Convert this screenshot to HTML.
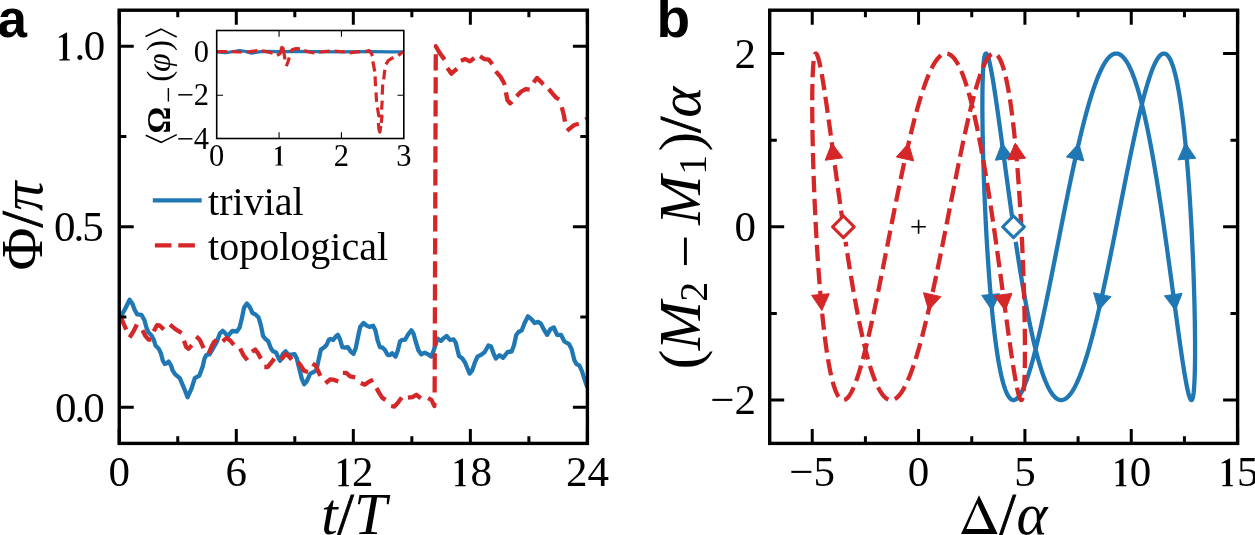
<!DOCTYPE html>
<html><head><meta charset="utf-8"><style>html,body{margin:0;padding:0;background:#fff;overflow:hidden}svg{display:block;will-change:transform}</style></head>
<body><svg width="1255" height="535" viewBox="0 0 1255 535">

<clipPath id="ca"><rect x="119.25" y="10.2" width="468.15" height="433.2"/></clipPath><g clip-path="url(#ca)">
<path d="M119.30 318.50 L121.50 315.40 L125.10 309.00 L129.60 299.80 L132.50 304.00 L134.50 309.50 L137.20 314.40 L141.40 314.80 L144.40 320.00 L146.40 327.50 L148.40 332.50 L151.20 335.00 L153.70 339.50 L155.50 345.50 L158.70 348.70 L161.00 353.70 L162.80 360.50 L164.70 364.00 L166.50 363.50 L168.60 361.50 L171.00 365.50 L172.60 370.30 L175.20 374.30 L179.80 378.20 L183.70 387.30 L187.60 397.20 L191.50 388.70 L194.80 378.20 L199.40 375.60 L202.70 366.40 L204.50 358.50 L206.40 355.00 L209.50 354.40 L212.80 348.80 L216.50 342.50 L219.90 333.60 L222.70 330.80 L225.50 333.60 L227.80 336.50 L230.00 333.50 L232.30 331.00 L236.80 331.50 L239.60 327.60 L241.80 318.60 L244.10 307.40 L246.90 303.50 L249.70 306.90 L252.50 313.00 L255.80 314.70 L258.60 317.50 L260.90 325.40 L263.10 336.00 L265.40 338.90 L268.20 341.20 L271.00 348.50 L273.20 351.30 L276.00 352.40 L277.70 356.30 L280.00 360.80 L282.80 354.10 L285.60 351.30 L288.40 354.60 L291.70 354.60 L294.50 354.10 L296.80 358.60 L299.00 367.50 L301.80 378.70 L304.10 384.30 L306.90 381.00 L310.20 373.70 L313.60 372.00 L316.40 370.30 L318.60 359.70 L320.90 349.60 L324.30 347.30 L326.50 345.00 L328.70 340.00 L330.50 339.00 L333.20 340.00 L335.80 336.50 L337.80 334.80 L340.00 339.30 L342.30 347.10 L345.10 347.70 L347.90 347.10 L350.70 351.60 L353.50 353.80 L355.70 348.20 L358.00 337.00 L360.20 326.90 L363.60 323.00 L367.00 325.80 L369.80 326.90 L373.10 325.80 L375.40 330.30 L377.60 340.40 L379.90 347.10 L382.70 347.70 L384.90 349.90 L387.70 355.00 L390.00 355.00 L392.20 353.30 L395.60 356.60 L397.80 350.50 L400.00 341.50 L402.30 339.80 L405.10 339.80 L407.90 334.80 L411.30 330.30 L413.50 333.60 L415.70 341.50 L418.50 350.50 L421.40 354.40 L424.70 352.70 L428.10 354.40 L431.40 356.60 L433.70 350.50 L436.50 341.50 L437.60 338.70 L441.00 340.90 L443.80 338.10 L446.60 335.90 L450.00 340.00 L453.60 339.40 L455.70 342.60 L457.30 349.30 L459.00 356.00 L462.40 358.50 L465.00 362.50 L467.70 369.00 L469.60 373.60 L472.20 370.30 L474.90 362.50 L477.50 356.60 L481.40 354.60 L484.70 352.00 L488.40 345.50 L491.10 346.60 L493.80 354.20 L495.90 358.50 L499.60 355.20 L503.00 357.80 L507.70 352.00 L511.60 351.50 L514.00 345.20 L516.20 335.00 L518.50 332.00 L521.80 330.30 L524.60 323.00 L528.00 316.30 L531.40 319.10 L534.70 323.00 L538.10 321.90 L540.90 323.60 L543.70 329.20 L547.10 334.80 L550.40 329.20 L553.80 327.50 L557.10 334.80 L561.10 335.00 L564.40 341.50 L569.10 344.20 L571.70 349.40 L574.30 359.90 L576.30 363.80 L579.50 365.70 L582.10 371.60 L584.80 380.10 L587.40 387.50" fill="none" stroke="#1f77b4" stroke-width="4.3" stroke-linejoin="round"/>
<path d="M119.30 315.50 L121.70 319.50 L124.00 324.60 L126.20 329.60M129.60 337.50 L132.90 332.40 L136.90 324.60M142.50 330.20 L145.30 335.80 L148.60 339.70 L151.40 339.70M153.70 331.30 L157.10 325.10 L159.90 325.70 L163.80 329.60M170.00 324.60 L173.90 327.90 L177.80 330.70 L181.70 333.00M184.00 340.80 L186.20 347.00 L188.50 348.70 L191.80 345.30M196.30 336.40 L199.70 339.70 L203.60 348.10M208.60 353.70 L211.40 347.00 L213.70 342.50 L216.50 339.70M222.70 341.40 L226.60 338.00 L230.50 340.80 L233.90 344.80M240.10 348.50 L243.50 355.20 L247.40 360.20M251.90 351.80 L255.30 349.60 L258.10 353.50 L260.90 358.60M264.30 367.00 L267.60 367.00 L271.00 363.00 L274.30 358.60M281.10 359.70 L285.60 354.10 L288.90 356.30 L291.70 359.70M297.90 361.90 L301.30 366.40 L304.10 370.90 L308.00 372.00M312.50 363.60 L315.80 365.80 L318.10 370.90 L320.30 375.90M325.40 383.20 L330.40 379.30 L334.30 379.90 L338.30 381.50M342.90 372.90 L346.20 372.90 L350.10 376.30 L355.20 377.40M360.80 383.00 L364.70 384.70 L368.60 381.90 L373.10 379.70M376.50 388.10 L379.30 393.10 L382.10 397.60 L385.50 399.90M391.10 406.00 L394.40 406.60 L398.40 402.10 L401.70 397.60M407.90 397.60 L412.40 397.10 L416.30 394.80 L420.80 398.20M428.10 398.20 L431.40 399.90 L434.40 406.00 L434.45 403.00M434.64 392.60 L434.70 376.30M434.72 369.60 L434.78 353.30M434.80 346.60 L434.85 330.30M434.87 323.60 L434.93 307.30M434.95 300.60 L435.01 284.30M435.03 277.60 L435.08 261.30M435.10 254.60 L435.16 238.30M435.18 231.60 L435.24 215.30M435.26 208.60 L435.31 192.30M435.33 185.60 L435.39 169.30M435.41 162.60 L435.47 146.30M435.49 139.60 L435.54 123.30M435.56 116.60 L435.62 100.30M435.64 93.60 L435.70 77.30M435.72 70.60 L435.77 54.30M435.80 47.60 L435.80 46.20 L439.60 52.90 L444.60 59.60M447.40 68.10 L451.40 73.70 L457.00 68.60M460.90 60.80 L465.40 59.10 L469.90 61.40 L474.30 58.00M480.00 56.30 L484.40 59.10 L488.90 59.70 L492.30 64.20M495.70 71.40 L500.10 76.20 L503.50 82.00 L504.80 85.00M505.90 92.30 L507.40 100.10 L510.10 103.40 L512.00 101.50M516.60 96.20 L521.20 91.60 L525.80 89.00 L529.70 89.60M533.60 82.40 L536.90 77.90 L540.20 81.10 L543.40 84.40M548.70 89.00 L552.60 93.60 L555.90 97.50 L559.10 99.50M561.80 107.30 L563.70 114.50 L565.00 121.70M567.00 130.90 L570.90 127.60 L574.20 125.00 L578.80 123.70M585.30 119.70 L587.40 118.50" fill="none" stroke="#d62728" stroke-width="4.3" stroke-linejoin="round" stroke-linecap="butt"/>
</g>
<rect x="119.25" y="10.2" width="468.15" height="433.2" fill="none" stroke="#000" stroke-width="3.4" stroke-linejoin="miter"/>
<path d="M119.25 443.4v-14.5M119.25 10.2v14.5M236.29 443.4v-14.5M236.29 10.2v14.5M353.32 443.4v-14.5M353.32 10.2v14.5M470.36 443.4v-14.5M470.36 10.2v14.5M587.40 443.4v-14.5M587.40 10.2v14.5M177.77 443.4v-7.1M177.77 10.2v7.1M294.81 443.4v-7.1M294.81 10.2v7.1M411.84 443.4v-7.1M411.84 10.2v7.1M528.88 443.4v-7.1M528.88 10.2v7.1M119.25 407.30h14.5M587.4 407.30h-14.5M119.25 226.80h14.5M587.4 226.80h-14.5M119.25 46.30h14.5M587.4 46.30h-14.5M119.25 317.05h7.1M587.4 317.05h-7.1M119.25 136.55h7.1M587.4 136.55h-7.1" stroke="#000" stroke-width="3.0" fill="none"/>
<rect x="769.7" y="10.2" width="467.89999999999986" height="433.2" fill="none" stroke="#000" stroke-width="3.4" stroke-linejoin="miter"/>
<path d="M812.24 443.4v-14.5M812.24 10.2v14.5M918.58 443.4v-14.5M918.58 10.2v14.5M1024.92 443.4v-14.5M1024.92 10.2v14.5M1131.26 443.4v-14.5M1131.26 10.2v14.5M1237.60 443.4v-14.5M1237.60 10.2v14.5M865.41 443.4v-7.1M865.41 10.2v7.1M971.75 443.4v-7.1M971.75 10.2v7.1M1078.09 443.4v-7.1M1078.09 10.2v7.1M1184.43 443.4v-7.1M1184.43 10.2v7.1M769.7 400.08h14.5M1237.6 400.08h-14.5M769.7 226.80h14.5M1237.6 226.80h-14.5M769.7 53.52h14.5M1237.6 53.52h-14.5M769.7 313.44h7.1M1237.6 313.44h-7.1M769.7 140.16h7.1M1237.6 140.16h-7.1" stroke="#000" stroke-width="3.0" fill="none"/>
<path d="M67.10 32.60L67.10 58.20C67.10 59.20 68.00 59.30 69.90 59.40L69.90 60.40L59.30 60.40L59.30 59.40C61.70 59.30 62.90 59.20 62.90 58.20L62.90 38.90C62.90 37.20 62.40 37.00 61.50 37.20L58.80 37.80L58.60 36.90L66.40 32.60Z" fill="#000"/>
<text x="74.50" y="60.40" font-size="43" font-family="Liberation Serif, serif">.</text>
<text x="83.70" y="60.40" font-size="43" font-family="Liberation Serif, serif">0</text>
<text x="102.75" y="421.54" font-size="43" text-anchor="end" font-family="Liberation Serif, serif" letter-spacing="-2">0.0</text>
<text x="101.85" y="241.04" font-size="43" text-anchor="end" font-family="Liberation Serif, serif" letter-spacing="-2">0.5</text>
<text x="119.25" y="486.40" font-size="43" text-anchor="middle" font-family="Liberation Serif, serif" >0</text>
<text x="236.29" y="486.40" font-size="43" text-anchor="middle" font-family="Liberation Serif, serif" >6</text>
<text x="587.40" y="486.40" font-size="43" text-anchor="middle" font-family="Liberation Serif, serif" >24</text>
<path d="M346.20 458.40L346.20 484.00C346.20 485.00 347.10 485.10 349.00 485.20L349.00 486.20L338.40 486.20L338.40 485.20C340.80 485.10 342.00 485.00 342.00 484.00L342.00 464.70C342.00 463.00 341.50 462.80 340.60 463.00L337.90 463.60L337.70 462.70L345.50 458.40Z" fill="#000"/>
<text x="352.00" y="486.20" font-size="43" font-family="Liberation Serif, serif">2</text>
<path d="M462.95 458.40L462.95 484.00C462.95 485.00 463.85 485.10 465.75 485.20L465.75 486.20L455.15 486.20L455.15 485.20C457.55 485.10 458.75 485.00 458.75 484.00L458.75 464.70C458.75 463.00 458.25 462.80 457.35 463.00L454.65 463.60L454.45 462.70L462.25 458.40Z" fill="#000"/>
<text x="470.50" y="486.20" font-size="43" font-family="Liberation Serif, serif">8</text>
<text x="756.00" y="414.32" font-size="43" text-anchor="end" font-family="Liberation Serif, serif" >−2</text>
<text x="756.00" y="241.04" font-size="43" text-anchor="end" font-family="Liberation Serif, serif" >0</text>
<text x="756.00" y="67.76" font-size="43" text-anchor="end" font-family="Liberation Serif, serif" >2</text>
<text x="812.24" y="486.40" font-size="43" text-anchor="middle" font-family="Liberation Serif, serif" >−5</text>
<text x="918.58" y="486.40" font-size="43" text-anchor="middle" font-family="Liberation Serif, serif" >0</text>
<text x="1024.92" y="486.40" font-size="43" text-anchor="middle" font-family="Liberation Serif, serif" >5</text>
<path d="M1123.50 458.40L1123.50 484.00C1123.50 485.00 1124.40 485.10 1126.30 485.20L1126.30 486.20L1115.70 486.20L1115.70 485.20C1118.10 485.10 1119.30 485.00 1119.30 484.00L1119.30 464.70C1119.30 463.00 1118.80 462.80 1117.90 463.00L1115.20 463.60L1115.00 462.70L1122.80 458.40Z" fill="#000"/>
<text x="1129.70" y="486.20" font-size="43" font-family="Liberation Serif, serif">0</text>
<path d="M1230.10 458.40L1230.10 484.00C1230.10 485.00 1231.00 485.10 1232.90 485.20L1232.90 486.20L1222.30 486.20L1222.30 485.20C1224.70 485.10 1225.90 485.00 1225.90 484.00L1225.90 464.70C1225.90 463.00 1225.40 462.80 1224.50 463.00L1221.80 463.60L1221.60 462.70L1229.40 458.40Z" fill="#000"/>
<text x="1236.90" y="486.20" font-size="43" font-family="Liberation Serif, serif">5</text>
<text x="-2.6" y="36.6" font-family="Liberation Sans, sans-serif" font-weight="bold" font-size="53">a</text>
<text x="656.5" y="36.6" font-family="Liberation Sans, sans-serif" font-weight="bold" font-size="55">b</text>
<text x="354.00" y="534.00" font-size="59" text-anchor="middle" font-family="Liberation Serif, serif" ><tspan font-style="italic">t</tspan><tspan stroke="#000" stroke-width="0.8">/</tspan><tspan font-style="italic">T</tspan></text>
<path d="M979 495.2L997.6 534L961 534ZM977.3 503.6L966.4 528.9L988.9 528.9Z" fill="#000" fill-rule="evenodd"/>
<text x="999.60" y="534.00" font-size="59" text-anchor="start" font-family="Liberation Serif, serif" stroke="#000" stroke-width="0.8">/</text>
<text x="1016.40" y="534.00" font-size="59" text-anchor="start" font-family="Liberation Serif, serif" font-style="italic">α</text>
<text transform="translate(42,226) rotate(-90)" font-size="59" text-anchor="middle" font-family="Liberation Serif, serif">Φ<tspan stroke="#000" stroke-width="0.8">/</tspan><tspan font-style="italic">π</tspan></text>
<g transform="translate(699.5,226) rotate(-90)" font-family="Liberation Serif, serif" font-size="59"><text x="-143.2" y="0">(</text><text x="-124.3" y="0" font-style="italic">M</text><text x="-75.7" y="7.7" font-size="40">2</text><text x="-42.1" y="5.45">−</text><text x="1.26" y="0" font-style="italic">M</text><text x="51.3" y="6.9" font-size="40">1</text><text x="74.4" y="0">)</text><text x="92.95" y="0" stroke="#000" stroke-width="0.8">/</text><text x="108.15" y="0" font-style="italic">α</text></g>
<line x1="152.8" y1="200.4" x2="201.7" y2="200.4" stroke="#1f77b4" stroke-width="4.3"/>
<line x1="154.9" y1="245.4" x2="201.7" y2="245.4" stroke="#d62728" stroke-width="4.3" stroke-dasharray="16.6 6.8"/>
<text x="208.10" y="214.60" font-size="40" text-anchor="start" font-family="Liberation Serif, serif" >trivial</text>
<text x="208.10" y="260.20" font-size="40" text-anchor="start" font-family="Liberation Serif, serif" >topological</text>
<path d="M1013.53 226.80 L1012.88 222.28 L1012.23 217.77 L1011.59 213.27 L1010.96 208.77 L1010.33 204.29 L1009.71 199.82 L1009.10 195.37 L1008.49 190.94 L1007.89 186.53 L1007.29 182.15 L1006.70 177.81 L1006.11 173.49 L1005.53 169.21 L1004.96 164.98 L1004.40 160.78 L1003.84 156.63 L1003.28 152.52 L1002.74 148.47 L1002.20 144.47 L1001.66 140.52 L1001.14 136.64 L1000.61 132.81 L1000.10 129.05 L999.59 125.36 L999.09 121.73 L998.60 118.17 L998.11 114.69 L997.63 111.29 L997.16 107.96 L996.69 104.72 L996.23 101.55 L995.78 98.48 L995.34 95.49 L994.90 92.59 L994.47 89.78 L994.04 87.06 L993.63 84.44 L993.22 81.91 L992.81 79.48 L992.42 77.16 L992.03 74.93 L991.65 72.81 L991.28 70.79 L990.91 68.88 L990.55 67.07 L990.20 65.38 L989.86 63.79 L989.52 62.31 L989.19 60.95 L988.87 59.70 L988.55 58.56 L988.25 57.54 L987.95 56.63 L987.66 55.83 L987.37 55.16 L987.10 54.60 L986.83 54.15 L986.57 53.83 L986.32 53.62 L986.07 53.52 L985.83 53.55 L985.61 53.69 L985.38 53.96 L985.17 54.33 L984.96 54.83 L984.76 55.44 L984.57 56.17 L984.39 57.02 L984.22 57.98 L984.05 59.05 L983.89 60.24 L983.74 61.54 L983.60 62.96 L983.46 64.48 L983.33 66.12 L983.21 67.86 L983.10 69.71 L983.00 71.67 L982.90 73.74 L982.82 75.90 L982.74 78.18 L982.67 80.55 L982.60 83.02 L982.55 85.59 L982.50 88.25 L982.46 91.01 L982.43 93.86 L982.41 96.80 L982.39 99.83 L982.38 102.95 L982.38 106.15 L982.39 109.43 L982.41 112.79 L982.43 116.23 L982.47 119.74 L982.51 123.33 L982.56 126.99 L982.61 130.71 L982.68 134.50 L982.75 138.35 L982.83 142.27 L982.92 146.24 L983.02 150.26 L983.12 154.34 L983.23 158.46 L983.35 162.64 L983.48 166.85 L983.62 171.11 L983.76 175.40 L983.92 179.73 L984.08 184.09 L984.25 188.48 L984.42 192.90 L984.61 197.34 L984.80 201.80 L985.00 206.27 L985.20 210.76 L985.42 215.26 L985.64 219.77 L985.87 224.29 L986.11 228.80 L986.36 233.32 L986.61 237.83 L986.87 242.33 L987.14 246.82 L987.42 251.30 L987.71 255.76 L988.00 260.20 L988.30 264.62 L988.61 269.01 L988.92 273.38 L989.24 277.71 L989.57 282.01 L989.91 286.27 L990.26 290.49 L990.61 294.67 L990.97 298.80 L991.34 302.88 L991.71 306.91 L992.09 310.89 L992.48 314.81 L992.88 318.67 L993.28 322.46 L993.69 326.20 L994.11 329.86 L994.54 333.46 L994.97 336.98 L995.41 340.43 L995.86 343.80 L996.31 347.09 L996.77 350.30 L997.24 353.42 L997.71 356.46 L998.19 359.41 L998.68 362.27 L999.18 365.04 L999.68 367.72 L1000.19 370.30 L1000.70 372.78 L1001.22 375.16 L1001.75 377.44 L1002.29 379.62 L1002.83 381.70 L1003.37 383.67 L1003.93 385.54 L1004.49 387.29 L1005.06 388.94 L1005.63 390.48 L1006.21 391.90 L1006.79 393.22 L1007.39 394.42 L1007.98 395.51 L1008.59 396.48 L1009.20 397.34 L1009.82 398.08 L1010.44 398.71 L1011.07 399.22 L1011.70 399.61 L1012.34 399.88 L1012.99 400.04 L1013.64 400.08 L1014.29 400.00 L1014.96 399.80 L1015.62 399.49 L1016.30 399.06 L1016.98 398.51 L1017.66 397.85 L1018.35 397.07 L1019.05 396.17 L1019.75 395.16 L1020.45 394.04 L1021.16 392.80 L1021.88 391.45 L1022.60 389.98 L1023.33 388.41 L1024.06 386.72 L1024.79 384.93 L1025.53 383.03 L1026.28 381.03 L1027.03 378.91 L1027.78 376.70 L1028.54 374.38 L1029.31 371.97 L1030.07 369.45 L1030.85 366.84 L1031.62 364.14 L1032.41 361.34 L1033.19 358.45 L1033.98 355.46 L1034.78 352.40 L1035.57 349.24 L1036.38 346.01 L1037.18 342.69 L1037.99 339.29 L1038.80 335.82 L1039.62 332.28 L1040.44 328.66 L1041.27 324.97 L1042.10 321.22 L1042.93 317.40 L1043.76 313.52 L1044.60 309.58 L1045.45 305.59 L1046.29 301.54 L1047.14 297.44 L1047.99 293.29 L1048.85 289.10 L1049.70 284.87 L1050.56 280.59 L1051.43 276.28 L1052.29 271.94 L1053.16 267.56 L1054.04 263.16 L1054.91 258.73 L1055.79 254.29 L1056.67 249.82 L1057.55 245.34 L1058.43 240.84 L1059.32 236.34 L1060.21 231.82 L1061.10 227.31 L1061.99 222.79 L1062.89 218.28 L1063.78 213.78 L1064.68 209.28 L1065.58 204.79 L1066.49 200.32 L1067.39 195.87 L1068.30 191.44 L1069.20 187.03 L1070.11 182.65 L1071.02 178.30 L1071.93 173.98 L1072.85 169.70 L1073.76 165.45 L1074.68 161.25 L1075.59 157.09 L1076.51 152.98 L1077.43 148.92 L1078.35 144.92 L1079.27 140.97 L1080.19 137.07 L1081.11 133.24 L1082.03 129.47 L1082.95 125.77 L1083.87 122.14 L1084.80 118.57 L1085.72 115.08 L1086.64 111.67 L1087.57 108.33 L1088.49 105.08 L1089.41 101.91 L1090.34 98.82 L1091.26 95.82 L1092.18 92.91 L1093.11 90.09 L1094.03 87.36 L1094.95 84.73 L1095.87 82.19 L1096.80 79.75 L1097.72 77.41 L1098.64 75.18 L1099.56 73.04 L1100.47 71.01 L1101.39 69.09 L1102.31 67.27 L1103.22 65.56 L1104.14 63.96 L1105.05 62.48 L1105.96 61.10 L1106.87 59.83 L1107.78 58.68 L1108.69 57.65 L1109.60 56.72 L1110.50 55.92 L1111.41 55.23 L1112.31 54.65 L1113.21 54.20 L1114.11 53.86 L1115.00 53.63 L1115.90 53.53 L1116.79 53.54 L1117.68 53.67 L1118.57 53.92 L1119.45 54.29 L1120.33 54.77 L1121.22 55.37 L1122.09 56.08 L1122.97 56.92 L1123.84 57.86 L1124.71 58.92 L1125.58 60.10 L1126.45 61.39 L1127.31 62.79 L1128.17 64.30 L1129.02 65.93 L1129.88 67.66 L1130.73 69.50 L1131.57 71.45 L1132.42 73.50 L1133.26 75.65 L1134.10 77.91 L1134.93 80.27 L1135.76 82.73 L1136.59 85.29 L1137.41 87.95 L1138.23 90.69 L1139.04 93.53 L1139.86 96.47 L1140.66 99.49 L1141.47 102.59 L1142.27 105.78 L1143.06 109.05 L1143.86 112.41 L1144.64 115.84 L1145.43 119.34 L1146.21 122.92 L1146.98 126.57 L1147.75 130.29 L1148.52 134.07 L1149.28 137.92 L1150.04 141.82 L1150.79 145.78 L1151.54 149.80 L1152.28 153.87 L1153.02 157.99 L1153.75 162.16 L1154.48 166.37 L1155.20 170.63 L1155.92 174.92 L1156.64 179.24 L1157.34 183.60 L1158.05 187.99 L1158.74 192.40 L1159.44 196.84 L1160.12 201.29 L1160.81 205.77 L1161.48 210.26 L1162.15 214.76 L1162.82 219.26 L1163.48 223.78 L1164.13 228.29 L1164.78 232.81 L1165.42 237.32 L1166.06 241.82 L1166.69 246.31 L1167.32 250.79 L1167.94 255.26 L1168.55 259.70 L1169.16 264.12 L1169.76 268.52 L1170.35 272.89 L1170.94 277.22 L1171.52 281.53 L1172.10 285.79 L1172.67 290.02 L1173.24 294.20 L1173.79 298.34 L1174.34 302.42 L1174.89 306.46 L1175.43 310.44 L1175.96 314.37 L1176.48 318.24 L1177.00 322.04 L1177.51 325.78 L1178.02 329.45 L1178.52 333.05 L1179.01 336.58 L1179.49 340.04 L1179.97 343.42 L1180.44 346.72 L1180.91 349.94 L1181.36 353.07 L1181.81 356.12 L1182.26 359.08 L1182.69 361.95 L1183.12 364.73 L1183.54 367.42 L1183.96 370.01 L1184.36 372.50 L1184.76 374.90 L1185.16 377.19 L1185.54 379.38 L1185.92 381.47 L1186.29 383.45 L1186.66 385.33 L1187.01 387.10 L1187.36 388.76 L1187.70 390.31 L1188.04 391.75 L1188.36 393.08 L1188.68 394.29 L1188.99 395.39 L1189.30 396.38 L1189.59 397.25 L1189.88 398.00 L1190.16 398.64 L1190.44 399.16 L1190.70 399.57 L1190.96 399.86 L1191.21 400.03 L1191.45 400.08 L1191.69 400.01 L1191.91 399.83 L1192.13 399.53 L1192.35 399.11 L1192.55 398.58 L1192.74 397.93 L1192.93 397.16 L1193.11 396.28 L1193.28 395.28 L1193.45 394.17 L1193.61 392.94 L1193.75 391.60 L1193.89 390.15 L1194.03 388.59 L1194.15 386.92 L1194.27 385.14 L1194.38 383.25 L1194.48 381.26 L1194.57 379.16 L1194.66 376.96 L1194.73 374.65 L1194.80 372.25 L1194.86 369.74 L1194.92 367.14 L1194.96 364.45 L1195.00 361.66 L1195.03 358.78 L1195.05 355.81 L1195.06 352.75 L1195.06 349.60 L1195.06 346.38 L1195.05 343.07 L1195.03 339.68 L1195.00 336.22 L1194.97 332.68 L1194.92 329.07 L1194.87 325.39 L1194.81 321.64 L1194.75 317.83 L1194.67 313.96 L1194.59 310.03 L1194.49 306.04 L1194.40 302.00 L1194.29 297.90 L1194.17 293.76 L1194.05 289.58 L1193.92 285.35 L1193.78 281.08 L1193.63 276.77 L1193.48 272.43 L1193.31 268.06 L1193.14 263.66 L1192.96 259.24 L1192.78 254.79 L1192.58 250.32 L1192.38 245.84 L1192.17 241.35 L1191.95 236.84 L1191.73 232.33 L1191.49 227.82 L1191.25 223.30 L1191.00 218.79 L1190.75 214.28 L1190.48 209.78 L1190.21 205.30 L1189.93 200.82 L1189.64 196.37 L1189.35 191.93 L1189.05 187.52 L1188.74 183.14 L1188.42 178.79 L1188.09 174.46 L1187.76 170.18 L1187.42 165.93 L1187.07 161.72 L1186.72 157.56 L1186.36 153.44 L1185.99 149.38 L1185.61 145.37 L1185.22 141.41 L1184.83 137.51 L1184.43 133.67 L1184.03 129.89 L1183.61 126.18 L1183.19 122.54 L1182.77 118.97 L1182.33 115.47 L1181.89 112.05 L1181.44 108.71 L1180.98 105.44 L1180.52 102.26 L1180.05 99.16 L1179.58 96.15 L1179.09 93.23 L1178.60 90.40 L1178.10 87.66 L1177.60 85.02 L1177.09 82.47 L1176.57 80.02 L1176.05 77.67 L1175.52 75.42 L1174.98 73.28 L1174.44 71.24 L1173.89 69.30 L1173.33 67.47 L1172.77 65.75 L1172.20 64.14 L1171.63 62.64 L1171.04 61.25 L1170.46 59.97 L1169.86 58.81 L1169.26 57.76 L1168.66 56.82 L1168.04 56.00 L1167.42 55.30 L1166.80 54.71 L1166.17 54.24 L1165.53 53.89 L1164.89 53.65 L1164.25 53.53 L1163.59 53.53 L1162.93 53.65 L1162.27 53.89 L1161.60 54.24 L1160.92 54.71 L1160.24 55.29 L1159.56 56.00 L1158.87 56.82 L1158.17 57.75 L1157.47 58.80 L1156.76 59.96 L1156.05 61.24 L1155.33 62.63 L1154.61 64.13 L1153.88 65.74 L1153.15 67.46 L1152.41 69.29 L1151.67 71.22 L1150.92 73.26 L1150.17 75.41 L1149.41 77.65 L1148.65 80.00 L1147.89 82.45 L1147.12 85.00 L1146.34 87.64 L1145.56 90.38 L1144.78 93.21 L1143.99 96.13 L1143.20 99.14 L1142.41 102.24 L1141.61 105.42 L1140.80 108.68 L1140.00 112.02 L1139.19 115.45 L1138.37 118.94 L1137.55 122.51 L1136.73 126.15 L1135.90 129.86 L1135.07 133.64 L1134.24 137.48 L1133.40 141.38 L1132.56 145.33 L1131.72 149.35 L1130.87 153.41 L1130.02 157.53 L1129.17 161.69 L1128.32 165.90 L1127.46 170.14 L1126.60 174.43 L1125.73 178.75 L1124.86 183.11 L1123.99 187.49 L1123.12 191.90 L1122.25 196.33 L1121.37 200.79 L1120.49 205.26 L1119.60 209.75 L1118.72 214.25 L1117.83 218.76 L1116.94 223.27 L1116.05 227.78 L1115.16 232.30 L1114.26 236.81 L1113.36 241.31 L1112.46 245.81 L1111.56 250.29 L1110.66 254.75 L1109.76 259.20 L1108.85 263.62 L1107.94 268.02 L1107.03 272.40 L1106.12 276.74 L1105.21 281.04 L1104.30 285.31 L1103.38 289.54 L1102.47 293.73 L1101.55 297.87 L1100.63 301.97 L1099.71 306.01 L1098.80 310.00 L1097.88 313.93 L1096.96 317.80 L1096.03 321.61 L1095.11 325.36 L1094.19 329.04 L1093.27 332.65 L1092.34 336.19 L1091.42 339.65 L1090.50 343.04 L1089.57 346.35 L1088.65 349.58 L1087.73 352.72 L1086.80 355.78 L1085.88 358.75 L1084.96 361.63 L1084.03 364.42 L1083.11 367.12 L1082.19 369.72 L1081.27 372.23 L1080.35 374.63 L1079.42 376.94 L1078.50 379.14 L1077.59 381.24 L1076.67 383.24 L1075.75 385.12 L1074.83 386.91 L1073.92 388.58 L1073.00 390.14 L1072.09 391.59 L1071.18 392.93 L1070.27 394.16 L1069.36 395.27 L1068.45 396.27 L1067.55 397.16 L1066.64 397.92 L1065.74 398.58 L1064.84 399.11 L1063.94 399.53 L1063.04 399.83 L1062.15 400.01 L1061.25 400.08 L1060.36 400.03 L1059.47 399.86 L1058.59 399.57 L1057.70 399.17 L1056.82 398.65 L1055.94 398.01 L1055.06 397.25 L1054.19 396.38 L1053.31 395.40 L1052.44 394.30 L1051.58 393.09 L1050.71 391.76 L1049.85 390.32 L1048.99 388.77 L1048.14 387.11 L1047.29 385.35 L1046.44 383.47 L1045.59 381.49 L1044.75 379.40 L1043.91 377.21 L1043.07 374.92 L1042.24 372.52 L1041.41 370.03 L1040.59 367.44 L1039.76 364.76 L1038.95 361.98 L1038.13 359.11 L1037.32 356.15 L1036.51 353.10 L1035.71 349.96 L1034.91 346.74 L1034.12 343.45 L1033.33 340.07 L1032.54 336.61 L1031.76 333.08 L1030.98 329.48 L1030.21 325.81 L1029.44 322.07 L1028.67 318.27 L1027.91 314.40 L1027.16 310.47 L1026.41 306.49 L1025.66 302.46 L1024.92 298.37 L1024.18 294.23 L1023.45 290.05 L1022.73 285.83 L1022.00 281.56 L1021.29 277.26 L1020.58 272.92 L1019.87 268.55 L1019.17 264.16 L1018.47 259.74 L1017.78 255.29 L1017.09 250.83 L1016.41 246.35 L1015.74 241.86" fill="none" stroke="#1f77b4" stroke-width="4.3" stroke-linejoin="round"/>
<path d="M843.38 226.80 L842.73 222.28 L842.09 217.77 L841.45 213.27 L840.82 208.77 L840.19 204.29 L839.57 199.82 L838.95 195.37 L838.34 190.94 L837.74 186.53 L837.14 182.15 L836.55 177.81 L835.97 173.49 L835.39 169.21 L834.82 164.98 L834.25 160.78 L833.69 156.63 L833.14 152.52 L832.59 148.47 L832.05 144.47 L831.52 140.52 L830.99 136.64 L830.47 132.81 L829.96 129.05 L829.45 125.36 L828.95 121.73 L828.45 118.17 L827.97 114.69 L827.49 111.29 L827.01 107.96 L826.55 104.72 L826.09 101.55 L825.64 98.48 L825.19 95.49 L824.75 92.59 L824.32 89.78 L823.90 87.06 L823.48 84.44 L823.07 81.91 L822.67 79.48 L822.27 77.16 L821.88 74.93 L821.50 72.81 L821.13 70.79 L820.76 68.88 L820.41 67.07 L820.05 65.38 L819.71 63.79 L819.37 62.31 L819.04 60.95 L818.72 59.70 L818.41 58.56 L818.10 57.54 L817.80 56.63 L817.51 55.83 L817.23 55.16 L816.95 54.60 L816.69 54.15 L816.42 53.83 L816.17 53.62 L815.93 53.52 L815.69 53.55 L815.46 53.69 L815.24 53.96 L815.02 54.33 L814.82 54.83 L814.62 55.44 L814.43 56.17 L814.25 57.02 L814.07 57.98 L813.90 59.05 L813.75 60.24 L813.59 61.54 L813.45 62.96 L813.32 64.48 L813.19 66.12 L813.07 67.86 L812.96 69.71 L812.85 71.67 L812.76 73.74 L812.67 75.90 L812.59 78.18 L812.52 80.55 L812.46 83.02 L812.40 85.59 L812.35 88.25 L812.31 91.01 L812.28 93.86 L812.26 96.80 L812.24 99.83 L812.24 102.95 L812.24 106.15 L812.25 109.43 L812.26 112.79 L812.29 116.23 L812.32 119.74 L812.36 123.33 L812.41 126.99 L812.47 130.71 L812.53 134.50 L812.60 138.35 L812.69 142.27 L812.77 146.24 L812.87 150.26 L812.98 154.34 L813.09 158.46 L813.21 162.64 L813.34 166.85 L813.47 171.11 L813.62 175.40 L813.77 179.73 L813.93 184.09 L814.10 188.48 L814.28 192.90 L814.46 197.34 L814.65 201.80 L814.85 206.27 L815.06 210.76 L815.27 215.26 L815.50 219.77 L815.73 224.29 L815.97 228.80 L816.21 233.32 L816.47 237.83 L816.73 242.33 L817.00 246.82 L817.28 251.30 L817.56 255.76 L817.85 260.20 L818.15 264.62 L818.46 269.01 L818.78 273.38 L819.10 277.71 L819.43 282.01 L819.77 286.27 L820.11 290.49 L820.46 294.67 L820.82 298.80 L821.19 302.88 L821.57 306.91 L821.95 310.89 L822.34 314.81 L822.73 318.67 L823.14 322.46 L823.55 326.20 L823.97 329.86 L824.39 333.46 L824.82 336.98 L825.26 340.43 L825.71 343.80 L826.16 347.09 L826.62 350.30 L827.09 353.42 L827.57 356.46 L828.05 359.41 L828.54 362.27 L829.03 365.04 L829.53 367.72 L830.04 370.30 L830.56 372.78 L831.08 375.16 L831.60 377.44 L832.14 379.62 L832.68 381.70 L833.23 383.67 L833.78 385.54 L834.34 387.29 L834.91 388.94 L835.48 390.48 L836.06 391.90 L836.65 393.22 L837.24 394.42 L837.84 395.51 L838.44 396.48 L839.05 397.34 L839.67 398.08 L840.29 398.71 L840.92 399.22 L841.55 399.61 L842.19 399.88 L842.84 400.04 L843.49 400.08 L844.15 400.00 L844.81 399.80 L845.48 399.49 L846.15 399.06 L846.83 398.51 L847.52 397.85 L848.21 397.07 L848.90 396.17 L849.60 395.16 L850.31 394.04 L851.02 392.80 L851.73 391.45 L852.45 389.98 L853.18 388.41 L853.91 386.72 L854.65 384.93 L855.39 383.03 L856.13 381.03 L856.88 378.91 L857.64 376.70 L858.40 374.38 L859.16 371.97 L859.93 369.45 L860.70 366.84 L861.48 364.14 L862.26 361.34 L863.05 358.45 L863.84 355.46 L864.63 352.40 L865.43 349.24 L866.23 346.01 L867.04 342.69 L867.85 339.29 L868.66 335.82 L869.48 332.28 L870.30 328.66 L871.12 324.97 L871.95 321.22 L872.78 317.40 L873.62 313.52 L874.46 309.58 L875.30 305.59 L876.15 301.54 L876.99 297.44 L877.85 293.29 L878.70 289.10 L879.56 284.87 L880.42 280.59 L881.28 276.28 L882.15 271.94 L883.02 267.56 L883.89 263.16 L884.76 258.73 L885.64 254.29 L886.52 249.82 L887.40 245.34 L888.29 240.84 L889.17 236.34 L890.06 231.82 L890.95 227.31 L891.85 222.79 L892.74 218.28 L893.64 213.78 L894.54 209.28 L895.44 204.79 L896.34 200.32 L897.24 195.87 L898.15 191.44 L899.06 187.03 L899.97 182.65 L900.88 178.30 L901.79 173.98 L902.70 169.70 L903.61 165.45 L904.53 161.25 L905.45 157.09 L906.36 152.98 L907.28 148.92 L908.20 144.92 L909.12 140.97 L910.04 137.07 L910.96 133.24 L911.88 129.47 L912.81 125.77 L913.73 122.14 L914.65 118.57 L915.57 115.08 L916.50 111.67 L917.42 108.33 L918.34 105.08 L919.27 101.91 L920.19 98.82 L921.12 95.82 L922.04 92.91 L922.96 90.09 L923.88 87.36 L924.81 84.73 L925.73 82.19 L926.65 79.75 L927.57 77.41 L928.49 75.18 L929.41 73.04 L930.33 71.01 L931.25 69.09 L932.16 67.27 L933.08 65.56 L933.99 63.96 L934.91 62.48 L935.82 61.10 L936.73 59.83 L937.64 58.68 L938.55 57.65 L939.45 56.72 L940.36 55.92 L941.26 55.23 L942.16 54.65 L943.06 54.20 L943.96 53.86 L944.86 53.63 L945.75 53.53 L946.64 53.54 L947.53 53.67 L948.42 53.92 L949.31 54.29 L950.19 54.77 L951.07 55.37 L951.95 56.08 L952.82 56.92 L953.70 57.86 L954.57 58.92 L955.44 60.10 L956.30 61.39 L957.16 62.79 L958.02 64.30 L958.88 65.93 L959.73 67.66 L960.58 69.50 L961.43 71.45 L962.27 73.50 L963.11 75.65 L963.95 77.91 L964.78 80.27 L965.61 82.73 L966.44 85.29 L967.26 87.95 L968.08 90.69 L968.90 93.53 L969.71 96.47 L970.52 99.49 L971.32 102.59 L972.12 105.78 L972.92 109.05 L973.71 112.41 L974.50 115.84 L975.28 119.34 L976.06 122.92 L976.84 126.57 L977.61 130.29 L978.37 134.07 L979.13 137.92 L979.89 141.82 L980.64 145.78 L981.39 149.80 L982.13 153.87 L982.87 157.99 L983.61 162.16 L984.33 166.37 L985.06 170.63 L985.78 174.92 L986.49 179.24 L987.20 183.60 L987.90 187.99 L988.60 192.40 L989.29 196.84 L989.98 201.29 L990.66 205.77 L991.34 210.26 L992.01 214.76 L992.67 219.26 L993.33 223.78 L993.99 228.29 L994.64 232.81 L995.28 237.32 L995.92 241.82 L996.55 246.31 L997.17 250.79 L997.79 255.26 L998.40 259.70 L999.01 264.12 L999.61 268.52 L1000.21 272.89 L1000.80 277.22 L1001.38 281.53 L1001.96 285.79 L1002.53 290.02 L1003.09 294.20 L1003.65 298.34 L1004.20 302.42 L1004.74 306.46 L1005.28 310.44 L1005.81 314.37 L1006.34 318.24 L1006.86 322.04 L1007.37 325.78 L1007.87 329.45 L1008.37 333.05 L1008.86 336.58 L1009.35 340.04 L1009.82 343.42 L1010.30 346.72 L1010.76 349.94 L1011.22 353.07 L1011.67 356.12 L1012.11 359.08 L1012.55 361.95 L1012.97 364.73 L1013.40 367.42 L1013.81 370.01 L1014.22 372.50 L1014.62 374.90 L1015.01 377.19 L1015.40 379.38 L1015.78 381.47 L1016.15 383.45 L1016.51 385.33 L1016.87 387.10 L1017.22 388.76 L1017.56 390.31 L1017.89 391.75 L1018.22 393.08 L1018.54 394.29 L1018.85 395.39 L1019.15 396.38 L1019.45 397.25 L1019.74 398.00 L1020.02 398.64 L1020.29 399.16 L1020.56 399.57 L1020.81 399.86 L1021.06 400.03 L1021.31 400.08 L1021.54 400.01 L1021.77 399.83 L1021.99 399.53 L1022.20 399.11 L1022.40 398.58 L1022.60 397.93 L1022.79 397.16 L1022.97 396.28 L1023.14 395.28 L1023.30 394.17 L1023.46 392.94 L1023.61 391.60 L1023.75 390.15 L1023.88 388.59 L1024.01 386.92 L1024.12 385.14 L1024.23 383.25 L1024.33 381.26 L1024.43 379.16 L1024.51 376.96 L1024.59 374.65 L1024.66 372.25 L1024.72 369.74 L1024.77 367.14 L1024.81 364.45 L1024.85 361.66 L1024.88 358.78 L1024.90 355.81 L1024.91 352.75 L1024.92 349.60 L1024.91 346.38 L1024.90 343.07 L1024.88 339.68 L1024.86 336.22 L1024.82 332.68 L1024.78 329.07 L1024.73 325.39 L1024.67 321.64 L1024.60 317.83 L1024.52 313.96 L1024.44 310.03 L1024.35 306.04 L1024.25 302.00 L1024.14 297.90 L1024.03 293.76 L1023.90 289.58 L1023.77 285.35 L1023.63 281.08 L1023.49 276.77 L1023.33 272.43 L1023.17 268.06 L1023.00 263.66 L1022.82 259.24 L1022.63 254.79 L1022.44 250.32 L1022.24 245.84 L1022.03 241.35 L1021.81 236.84 L1021.58 232.33 L1021.35 227.82 L1021.11 223.30 L1020.86 218.79 L1020.60 214.28 L1020.34 209.78 L1020.07 205.30 L1019.79 200.82 L1019.50 196.37 L1019.20 191.93 L1018.90 187.52 L1018.59 183.14 L1018.27 178.79 L1017.95 174.46 L1017.62 170.18 L1017.28 165.93 L1016.93 161.72 L1016.57 157.56 L1016.21 153.44 L1015.84 149.38 L1015.46 145.37 L1015.08 141.41 L1014.69 137.51 L1014.29 133.67 L1013.88 129.89 L1013.47 126.18 L1013.05 122.54 L1012.62 118.97 L1012.19 115.47 L1011.74 112.05 L1011.30 108.71 L1010.84 105.44 L1010.38 102.26 L1009.91 99.16 L1009.43 96.15 L1008.95 93.23 L1008.46 90.40 L1007.96 87.66 L1007.46 85.02 L1006.94 82.47 L1006.43 80.02 L1005.90 77.67 L1005.37 75.42 L1004.84 73.28 L1004.29 71.24 L1003.74 69.30 L1003.19 67.47 L1002.62 65.75 L1002.06 64.14 L1001.48 62.64 L1000.90 61.25 L1000.31 59.97 L999.72 58.81 L999.12 57.76 L998.51 56.82 L997.90 56.00 L997.28 55.30 L996.66 54.71 L996.03 54.24 L995.39 53.89 L994.75 53.65 L994.10 53.53 L993.45 53.53 L992.79 53.65 L992.12 53.89 L991.45 54.24 L990.78 54.71 L990.10 55.29 L989.41 56.00 L988.72 56.82 L988.02 57.75 L987.32 58.80 L986.61 59.96 L985.90 61.24 L985.18 62.63 L984.46 64.13 L983.73 65.74 L983.00 67.46 L982.26 69.29 L981.52 71.22 L980.77 73.26 L980.02 75.41 L979.27 77.65 L978.51 80.00 L977.74 82.45 L976.97 85.00 L976.20 87.64 L975.42 90.38 L974.63 93.21 L973.85 96.13 L973.06 99.14 L972.26 102.24 L971.46 105.42 L970.66 108.68 L969.85 112.02 L969.04 115.45 L968.23 118.94 L967.41 122.51 L966.58 126.15 L965.76 129.86 L964.93 133.64 L964.10 137.48 L963.26 141.38 L962.42 145.33 L961.58 149.35 L960.73 153.41 L959.88 157.53 L959.03 161.69 L958.17 165.90 L957.31 170.14 L956.45 174.43 L955.59 178.75 L954.72 183.11 L953.85 187.49 L952.98 191.90 L952.10 196.33 L951.22 200.79 L950.34 205.26 L949.46 209.75 L948.57 214.25 L947.69 218.76 L946.80 223.27 L945.91 227.78 L945.01 232.30 L944.12 236.81 L943.22 241.31 L942.32 245.81 L941.42 250.29 L940.52 254.75 L939.61 259.20 L938.70 263.62 L937.80 268.02 L936.89 272.40 L935.98 276.74 L935.06 281.04 L934.15 285.31 L933.24 289.54 L932.32 293.73 L931.41 297.87 L930.49 301.97 L929.57 306.01 L928.65 310.00 L927.73 313.93 L926.81 317.80 L925.89 321.61 L924.97 325.36 L924.04 329.04 L923.12 332.65 L922.20 336.19 L921.28 339.65 L920.35 343.04 L919.43 346.35 L918.50 349.58 L917.58 352.72 L916.66 355.78 L915.73 358.75 L914.81 361.63 L913.89 364.42 L912.96 367.12 L912.04 369.72 L911.12 372.23 L910.20 374.63 L909.28 376.94 L908.36 379.14 L907.44 381.24 L906.52 383.24 L905.60 385.12 L904.69 386.91 L903.77 388.58 L902.86 390.14 L901.95 391.59 L901.03 392.93 L900.12 394.16 L899.22 395.27 L898.31 396.27 L897.40 397.16 L896.50 397.92 L895.59 398.58 L894.69 399.11 L893.79 399.53 L892.90 399.83 L892.00 400.01 L891.11 400.08 L890.22 400.03 L889.33 399.86 L888.44 399.57 L887.56 399.17 L886.67 398.65 L885.79 398.01 L884.92 397.25 L884.04 396.38 L883.17 395.40 L882.30 394.30 L881.43 393.09 L880.57 391.76 L879.71 390.32 L878.85 388.77 L877.99 387.11 L877.14 385.35 L876.29 383.47 L875.45 381.49 L874.60 379.40 L873.76 377.21 L872.93 374.92 L872.10 372.52 L871.27 370.03 L870.44 367.44 L869.62 364.76 L868.80 361.98 L867.99 359.11 L867.18 356.15 L866.37 353.10 L865.57 349.96 L864.77 346.74 L863.97 343.45 L863.18 340.07 L862.40 336.61 L861.61 333.08 L860.84 329.48 L860.06 325.81 L859.29 322.07 L858.53 318.27 L857.77 314.40 L857.01 310.47 L856.26 306.49 L855.52 302.46 L854.77 298.37 L854.04 294.23 L853.31 290.05 L852.58 285.83 L851.86 281.56 L851.14 277.26 L850.43 272.92 L849.72 268.55 L849.02 264.16 L848.33 259.74 L847.63 255.29 L846.95 250.83 L846.27 246.35 L845.59 241.86" fill="none" stroke="#d62728" stroke-width="4.3" stroke-dasharray="16.3 6.7" stroke-linejoin="round"/>
<path d="M1002.02 143.17L1012.98 157.84L995.34 160.22ZM992.02 310.47L981.72 295.34L999.45 293.74ZM1078.69 143.31L1083.85 160.88L1066.49 156.97ZM1175.42 310.43L1164.46 295.76L1182.11 293.38ZM1185.42 143.13L1195.73 158.26L1178.00 159.86ZM1098.76 310.29L1093.59 292.72L1110.96 296.63Z" fill="#1f77b4" stroke="#1f77b4" stroke-width="1" stroke-linejoin="round"/>
<path d="M831.88 143.17L842.84 157.84L825.19 160.22ZM821.88 310.47L811.57 295.34L829.30 293.74ZM908.54 143.31L913.71 160.88L896.34 156.97ZM1005.28 310.43L994.32 295.76L1011.96 293.38ZM1015.28 143.13L1025.58 158.26L1007.85 159.86ZM928.61 310.29L923.45 292.72L940.81 296.63Z" fill="#d62728" stroke="#d62728" stroke-width="1" stroke-linejoin="round"/>
<path d="M843.38 216.00L854.18 226.80L843.38 237.60L832.58 226.80Z" fill="#fff" stroke="#d62728" stroke-width="3.1" stroke-linejoin="round"/>
<path d="M1013.53 216.00L1024.33 226.80L1013.53 237.60L1002.73 226.80Z" fill="#fff" stroke="#1f77b4" stroke-width="3.1" stroke-linejoin="round"/>
<path d="M911.38 226.80h14.4M918.58 219.80v14" stroke="#000" stroke-width="1.6" fill="none"/>
<rect x="216.7" y="30.5" width="187.10000000000002" height="108.0" fill="#fff" stroke="none"/>
<path d="M216.70 51.90 L226.00 52.70 L233.90 51.50 L239.50 50.60 L245.90 51.50 L251.50 53.20 L258.60 51.90 L265.80 51.30 L277.70 51.60 L293.70 51.30 L313.60 51.60 L340.00 51.80 L370.00 51.70 L390.00 51.90 L403.80 51.90" fill="none" stroke="#1f77b4" stroke-width="3.2" stroke-linejoin="round"/>
<path d="M216.70 51.60 L227.00 51.50M231.50 51.50 L236.00 51.80 L241.90 52.00M246.70 52.00 L252.00 51.30 L257.40 50.70M261.80 50.70 L267.00 51.80 L272.60 53.10M277.00 55.30 L280.10 53.50 L281.80 47.50 L283.00 48.10 L284.30 55.00 L285.00 59.50M289.30 57.50 L287.90 62.00 L286.30 66.30M290.50 52.20 L292.50 49.50 L296.00 48.60 L300.00 48.90M304.30 50.60 L309.00 52.00 L314.50 53.00M319.00 52.20 L324.00 51.60 L329.80 51.10M334.60 51.10 L340.00 51.50 L344.90 52.00M349.60 52.80 L355.00 52.20 L360.20 51.70M365.30 51.60 L369.10 50.60 L371.30 53.20 L372.50 56.20M372.80 61.40 L374.00 67.40 L374.70 71.50M375.10 76.40 L375.50 86.20M376.00 92.30 L376.60 101.90M377.40 107.50 L378.80 115.90 L382.00 116.20 L381.20 123.00M378.40 122.80 L378.90 129.30 L379.90 132.10 L380.80 126.00M381.60 109.70 L382.20 100.70M382.20 94.60 L382.70 84.50M383.70 79.40 L384.80 69.70M385.90 64.40 L388.20 60.70 L393.40 57.30M398.30 55.50 L402.00 52.50 L403.80 52.00" fill="none" stroke="#d62728" stroke-width="3.2" stroke-linejoin="round"/>
<path d="M279.07 138.5v-6.3M279.07 30.5v6.3M341.43 138.5v-6.3M341.43 30.5v6.3M216.7 95.30h6.3M403.8 95.30h-6.3" stroke="#000" stroke-width="1.1" fill="none"/>
<rect x="216.7" y="30.5" width="187.10000000000002" height="108.0" fill="none" stroke="#000" stroke-width="1.6"/>
<text x="216.70" y="165.60" font-size="30.5" text-anchor="middle" font-family="Liberation Serif, serif" >0</text>
<text x="341.43" y="165.60" font-size="30.5" text-anchor="middle" font-family="Liberation Serif, serif" >2</text>
<text x="403.80" y="165.60" font-size="30.5" text-anchor="middle" font-family="Liberation Serif, serif" >3</text>
<path d="M280.84 145.88L280.84 164.04C280.84 164.75 281.48 164.82 282.83 164.89L282.83 165.60L275.31 165.60L275.31 164.89C277.01 164.82 277.86 164.75 277.86 164.04L277.86 150.35C277.86 149.14 277.51 149.00 276.87 149.14L274.95 149.57L274.81 148.93L280.34 145.88Z" fill="#000"/>
<text x="209.00" y="62.20" font-size="30.5" text-anchor="end" font-family="Liberation Serif, serif" >0</text>
<text x="209.00" y="105.40" font-size="30.5" text-anchor="end" font-family="Liberation Serif, serif" >−2</text>
<text x="209.00" y="148.60" font-size="30.5" text-anchor="end" font-family="Liberation Serif, serif" >−4</text>
<g transform="translate(169.8,85.5) rotate(-90)" font-family="Liberation Serif, serif"><text x="-48" y="0" font-size="33.5" font-weight="bold">Ω</text><text x="-17.4" y="7.7" font-size="29">−</text><text x="3.8" y="0" font-size="33">(</text><text x="13.6" y="0" font-size="34" font-style="italic">φ</text><text x="34.6" y="0" font-size="33">)</text></g>
<path d="M145.5 36.5L161 29.2L176.7 37M145.7 135.3L161.1 142.3L176.8 134.6" fill="none" stroke="#000" stroke-width="1.5" stroke-linejoin="miter"/>
</svg></body></html>
